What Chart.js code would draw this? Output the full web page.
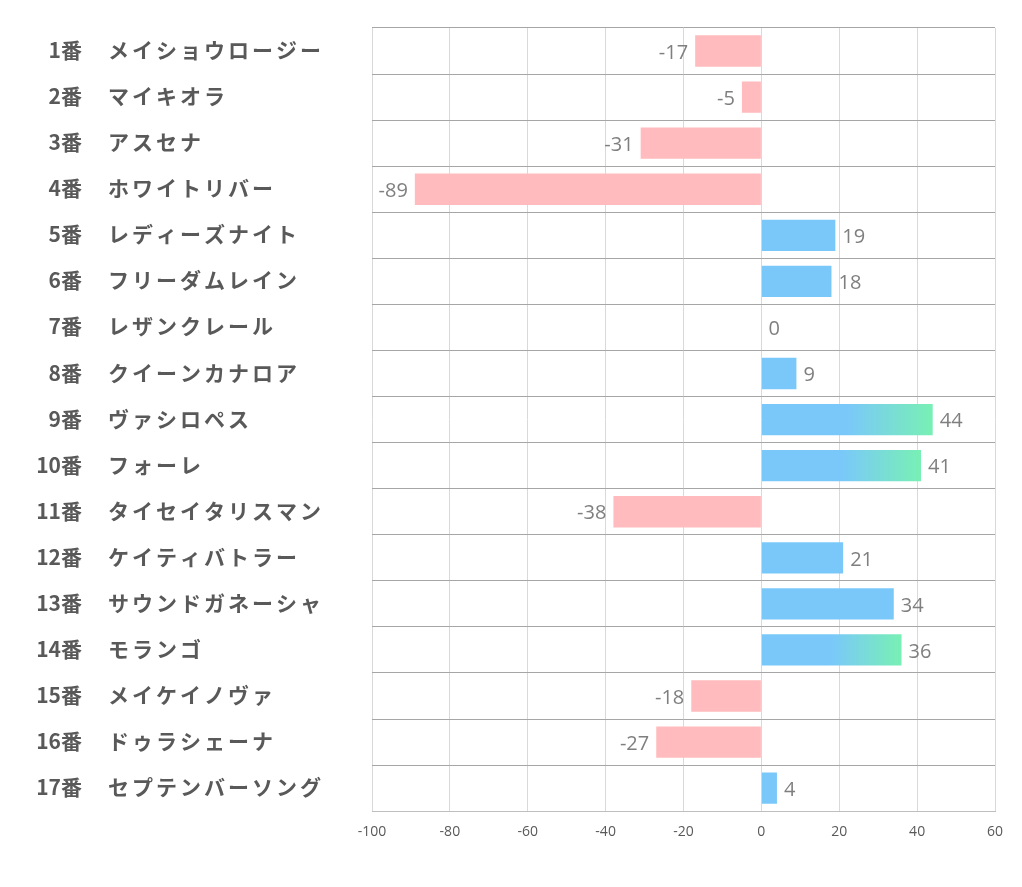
<!DOCTYPE html>
<html>
<head>
<meta charset="utf-8">
<script src="https://cdn.jsdelivr.net/npm/chart.js@4"></script>
<style>
  html, body { margin: 0; padding: 0; background: #fff; }
  #wrap { width: 1022px; height: 887px; }
</style>
</head>
<body>
<div id="wrap"><canvas id="chart"></canvas></div>
<script>
var numbers = ['1番', '2番', '3番', '4番', '5番', '6番', '7番', '8番', '9番', '10番',
  '11番', '12番', '13番', '14番', '15番', '16番', '17番'];
var names = ['メイショウロージー', 'マイキオラ', 'アスセナ', 'ホワイトリバー', 'レディーズナイト',
  'フリーダムレイン', 'レザンクレール', 'クイーンカナロア', 'ヴァシロペス', 'フォーレ',
  'タイセイタリスマン', 'ケイティバトラー', 'サウンドガネーシャ', 'モランゴ', 'メイケイノヴァ',
  'ドゥラシェーナ', 'セプテンバーソング'];
var values = [-17, -5, -31, -89, 19, 18, 0, 9, 44, 41, -38, 21, 34, 36, -18, -27, 4];
var xTicks = [-100, -80, -60, -40, -20, 0, 20, 40, 60];

var pink = 'rgb(255, 187, 190)';
var blue = 'rgb(122, 200, 250)';
var green = 'rgb(120, 240, 180)';

function barColor(c) {
  var v = c.raw;
  if (v < 0) return pink;
  if (v < 35) return blue;
  var chart = c.chart;
  if (!chart.chartArea) return blue;
  var x = chart.scales.x;
  var x0 = x.getPixelForValue(0), x1 = x.getPixelForValue(v);
  var g = chart.ctx.createLinearGradient(x0, 0, x1, 0);
  g.addColorStop(0, blue);
  g.addColorStop(0.5, blue);
  g.addColorStop(1, green);
  return g;
}

// left-hand labels: number right aligned, name left aligned
var rowLabels = {
  id: 'rowLabels',
  afterDraw: function(chart) {
    var ctx = chart.ctx, y = chart.scales.y;
    ctx.save();
    ctx.fillStyle = '#595959';
    ctx.font = 'bold 21px "Noto Sans CJK JP"';
    ctx.textBaseline = 'middle';
    for (var i = 0; i < names.length; i++) {
      var py = y.getPixelForValue(i) - 1;
      ctx.letterSpacing = '0px';
      ctx.textAlign = 'right';
      ctx.fillText(numbers[i], 82, py);
      ctx.letterSpacing = '3px';
      ctx.textAlign = 'left';
      ctx.fillText(names[i], 108, py);
    }
    ctx.restore();
  }
};

// value labels next to the bar ends
var valueLabels = {
  id: 'valueLabels',
  afterDatasetsDraw: function(chart) {
    var ctx = chart.ctx, x = chart.scales.x, y = chart.scales.y;
    ctx.save();
    ctx.fillStyle = '#7f7f7f';
    ctx.font = '20px "Open Sans"';
    ctx.textBaseline = 'middle';
    values.forEach(function(v, i) {
      var px = x.getPixelForValue(v), py = y.getPixelForValue(i) + 2;
      if (v < 0) {
        ctx.textAlign = 'right';
        ctx.fillText(String(v), px - 7, py);
      } else {
        ctx.textAlign = 'left';
        ctx.fillText(String(v), px + 7, py);
      }
    });
    ctx.restore();
  }
};

new Chart(document.getElementById('chart'), {
  type: 'bar',
  data: {
    labels: names,
    datasets: [{
      data: values,
      backgroundColor: barColor,
      borderWidth: 0,
      barPercentage: 0.68,
      categoryPercentage: 1
    }]
  },
  options: {
    indexAxis: 'y',
    responsive: true,
    maintainAspectRatio: false,
    animation: false,
    layout: { padding: { left: 372, right: 27, top: 28, bottom: 35 } },
    plugins: { legend: { display: false }, tooltip: { enabled: false } },
    scales: {
      x: {
        min: -100,
        max: 60,
        afterBuildTicks: function(s) { s.ticks = xTicks.map(function(v) { return { value: v }; }); },
        grid: { color: '#d9d9d9', drawTicks: false },
        border: { color: '#bfbfbf', width: 1 },
        ticks: { color: '#595959', font: { family: 'Open Sans', size: 14 }, padding: 12, maxRotation: 0 }
      },
      y: {
        ticks: { display: false },
        grid: { color: '#a6a6a6', drawTicks: false, offset: true },
        border: { display: false }
      }
    }
  },
  plugins: [rowLabels, valueLabels]
});
</script>
</body>
</html>
